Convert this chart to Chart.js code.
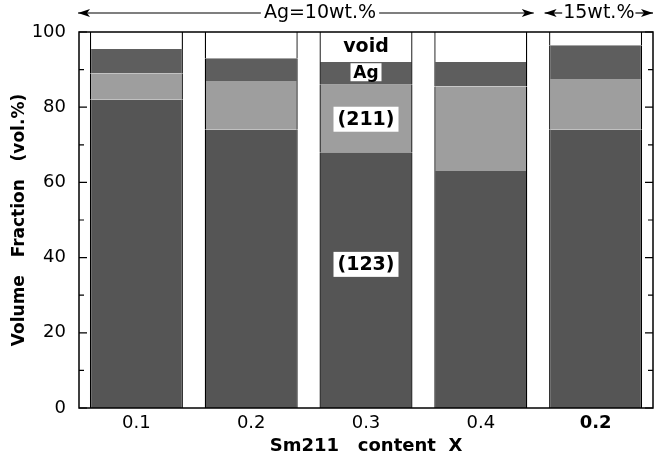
<!DOCTYPE html>
<html>
<head>
<meta charset="utf-8">
<script src="https://cdn.jsdelivr.net/npm/chart.js@4.4.1/dist/chart.umd.min.js"></script>
<style>
  html, body { margin: 0; background: #fff; }
  #wrap { width: 656px; height: 463px; }
</style>
</head>
<body>
<div id="wrap"><canvas id="chart"></canvas></div>
<script>
// ---- data (vol.%) ----
const categories = ["0.1", "0.2", "0.3", "0.4", "0.2"];
const phase123 = [82, 74, 68, 63, 74];
const phase211 = [7, 13, 18, 22.5, 13.5];
const phaseAg = [6.5, 6, 6, 6.5, 9];
const phaseVoid = [4.5, 7, 8, 8, 3.5];
const yMajor = [0, 20, 40, 60, 80, 100];
const yMinor = [10, 30, 50, 70, 90];

// labels written inside the 0.3 bar
const phaseLabels = [
    { text: "void", y: 96.3, size: 19, box: null },
    { text: "Ag", y: 89.3, size: 17, box: [31, 18] },
    { text: "(211)", y: 76.8, size: 19, box: [65, 25] },
    { text: "(123)", y: 38.2, size: 19, box: [65, 25] },
];
const labelBar = 2;

const FONT = "'DejaVu Sans', Verdana, sans-serif";

/* ===================== PLUGIN: frame, ticks, notes ===================== */

const decorations = {
    id: "decorations",
    afterDatasetsDraw(chart) {
        const { ctx, chartArea: a, scales: { x, y } } = chart;
        ctx.save();

        // frame
        ctx.strokeStyle = "#000";
        ctx.lineWidth = 1.5;
        ctx.strokeRect(a.left, a.top, a.right - a.left, a.bottom - a.top);

        // inward ticks, left and right
        ctx.lineWidth = 1.2;
        yMajor.concat(yMinor).forEach(v => {
            const len = yMajor.includes(v) ? 8 : 5;
            const py = y.getPixelForValue(v);
            ctx.beginPath();
            ctx.moveTo(a.left, py); ctx.lineTo(a.left + len, py);
            ctx.moveTo(a.right, py); ctx.lineTo(a.right - len, py);
            ctx.stroke();
        });

        // phase labels in one bar
        const cx = x.getPixelForValue(labelBar);
        ctx.textAlign = "center";
        ctx.textBaseline = "middle";
        phaseLabels.forEach(l => {
            const py = y.getPixelForValue(l.y);
            if (l.box) {
                ctx.fillStyle = "#fff";
                ctx.fillRect(cx - l.box[0] / 2, py - l.box[1] / 2, l.box[0], l.box[1]);
            }
            ctx.font = "bold " + l.size + "px " + FONT;
            ctx.fillStyle = "#000";
            ctx.fillText(l.text, cx, py + 1);
        });

        // top annotation arrows
        const ty = 13;
        const arrow = (from, to) => {
            const dir = Math.sign(to - from);
            ctx.beginPath();
            ctx.moveTo(from, ty); ctx.lineTo(to, ty); ctx.stroke();
            ctx.beginPath();
            ctx.moveTo(to, ty);
            ctx.lineTo(to - dir * 12, ty - 4);
            ctx.lineTo(to - dir * 9, ty);
            ctx.lineTo(to - dir * 12, ty + 4);
            ctx.closePath();
            ctx.fill();
        };
        ctx.font = "19px " + FONT;
        ctx.lineWidth = 1.2;
        ctx.fillStyle = "#000";

        const x0 = a.left - 1;
        const x1 = x.getPixelForValue(3) + 53;
        const t1 = "Ag=10wt.%";
        const tm = 320;
        const w1 = ctx.measureText(t1).width;
        ctx.fillText(t1, tm, ty);
        arrow(tm - w1 / 2 - 3, x0);
        arrow(tm + w1 / 2 + 3, x1);

        const x2 = x.getPixelForValue(4) - 51;
        const x3 = a.right;
        const t2 = "15wt.%";
        const w2 = ctx.measureText(t2).width;
        const tm2 = (x2 + x3) / 2;
        ctx.fillText(t2, tm2, ty);
        arrow(tm2 - w2 / 2 - 1, x2);
        arrow(tm2 + w2 / 2 + 1, x3);

        ctx.restore();
    },
};

/* ===================== CHART ===================== */

const edge = { left: 1.3, right: 1.3, top: 0, bottom: 0 };

function dataset(label, data, color) {
    return {
        label,
        data,
        backgroundColor: color,
        borderColor: "#000",
        borderWidth: edge,
        borderSkipped: false,
        barPercentage: 0.81,
        categoryPercentage: 1.0,
    };
}

new Chart(document.getElementById("chart"), {
    type: "bar",
    data: {
        labels: categories,
        datasets: [
            dataset("(123)", phase123, "#555555"),
            dataset("(211)", phase211, "#9e9e9e"),
            dataset("Ag", phaseAg, "#5e5e5e"),
            dataset("void", phaseVoid, "#ffffff"),
        ],
    },
    options: {
        responsive: true,
        maintainAspectRatio: false,
        animation: false,
        layout: { padding: { top: 32, right: 3, left: 0, bottom: 0 } },
        plugins: {
            legend: { display: false },
            tooltip: { enabled: false },
        },
        scales: {
            x: {
                stacked: true,
                grid: { display: false, drawTicks: false },
                border: { display: false },
                afterFit: s => { s.height = 55; },
                ticks: {
                    color: "#000",
                    padding: 5,
                    font: c => ({
                        family: FONT,
                        size: 18,
                        weight: c.index === 4 ? "bold" : "normal",
                    }),
                },
                title: {
                    display: true,
                    text: "Sm211   content  X",
                    color: "#000",
                    font: { family: FONT, size: 18, weight: "bold" },
                    padding: { top: 0, bottom: 6 },
                },
            },
            y: {
                stacked: true,
                min: 0,
                max: 100,
                grid: { display: false, drawTicks: false },
                border: { display: false },
                afterFit: s => { s.width = 79; },
                afterBuildTicks: s => { s.ticks = yMajor.map(v => ({ value: v })); },
                ticks: {
                    color: "#000",
                    padding: 13,
                    font: { family: FONT, size: 18 },
                },
                title: {
                    display: true,
                    text: "Volume   Fraction   (vol.%)",
                    color: "#000",
                    font: { family: FONT, size: 17, weight: "bold" },
                    padding: { top: 9, bottom: 0 },
                },
            },
        },
    },
    plugins: [decorations],
});
</script>
</body>
</html>
